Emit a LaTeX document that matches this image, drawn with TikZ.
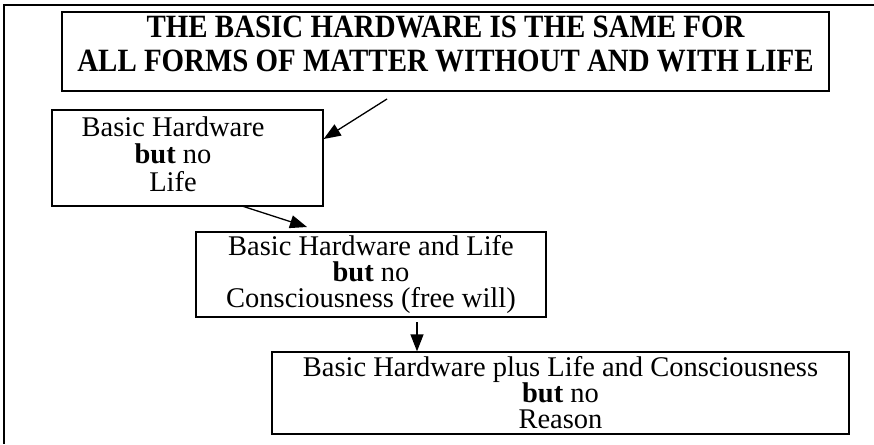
\documentclass[tikz,border=0pt]{standalone}
\usepackage{fontspec}
\setmainfont{Liberation Serif}
\newfontfamily\titlefont[FakeStretch=0.89]{Liberation Serif}
\usetikzlibrary{arrows.meta}
\tikzstyle{TitleBox}=[rectangle, draw=black, line width=1.3pt, inner sep=0pt, align=center, font=\titlefont\fontsize{32.5}{34}\selectfont\bfseries]
\tikzstyle{StageBox}=[rectangle, draw=black, line width=1.3pt, inner sep=0pt, align=center, font=\fontsize{28.5}{26}\selectfont]
\tikzstyle{Frame}=[line width=2pt]
\tikzstyle{StepEdge}=[-{Triangle[length=17pt,width=13pt]}, line width=1.3pt]

\begin{document}
\begin{tikzpicture}[x=1pt, y=-1pt]
\useasboundingbox (0,0) rectangle (874,444);
\draw[Frame] (874,5) -- (4,5) -- (4,444);

\node[TitleBox, minimum width=767pt, minimum height=79pt](Hardware) at (445.5,51.5) {THE BASIC HARDWARE IS THE SAME FOR\\ALL FORMS OF MATTER WITHOUT AND WITH LIFE\rule[-15pt]{0pt}{0pt}};
\node[StageBox, minimum width=271pt, minimum height=96pt](NoLife) at (187.5,158) {\begin{tabular}{@{}c@{}}Basic Hardware\\\textbf{but} no\\Life\end{tabular}\hspace*{29pt}};
\node[StageBox, minimum width=350pt, minimum height=85pt](NoConsc) at (371,274.5) {Basic Hardware and Life\\\textbf{but} no\\Consciousness (free will)};
\node[StageBox, minimum width=577pt, minimum height=82pt](NoReason) at (560.5,393) {Basic Hardware plus Life and Consciousness\\\textbf{but} no\\Reason};

\coordinate (StartA) at (387,99);
\coordinate (StartB) at (242,206);
\coordinate (EndB) at (307,227);
\coordinate (StartC) at (417,322);

\draw[StepEdge](StartA) -- ([yshift=19pt]NoLife.east);
\draw[StepEdge](StartB) -- (EndB);
\draw[StepEdge](StartC) -- (StartC |- NoReason.north);

\end{tikzpicture}
\end{document}
